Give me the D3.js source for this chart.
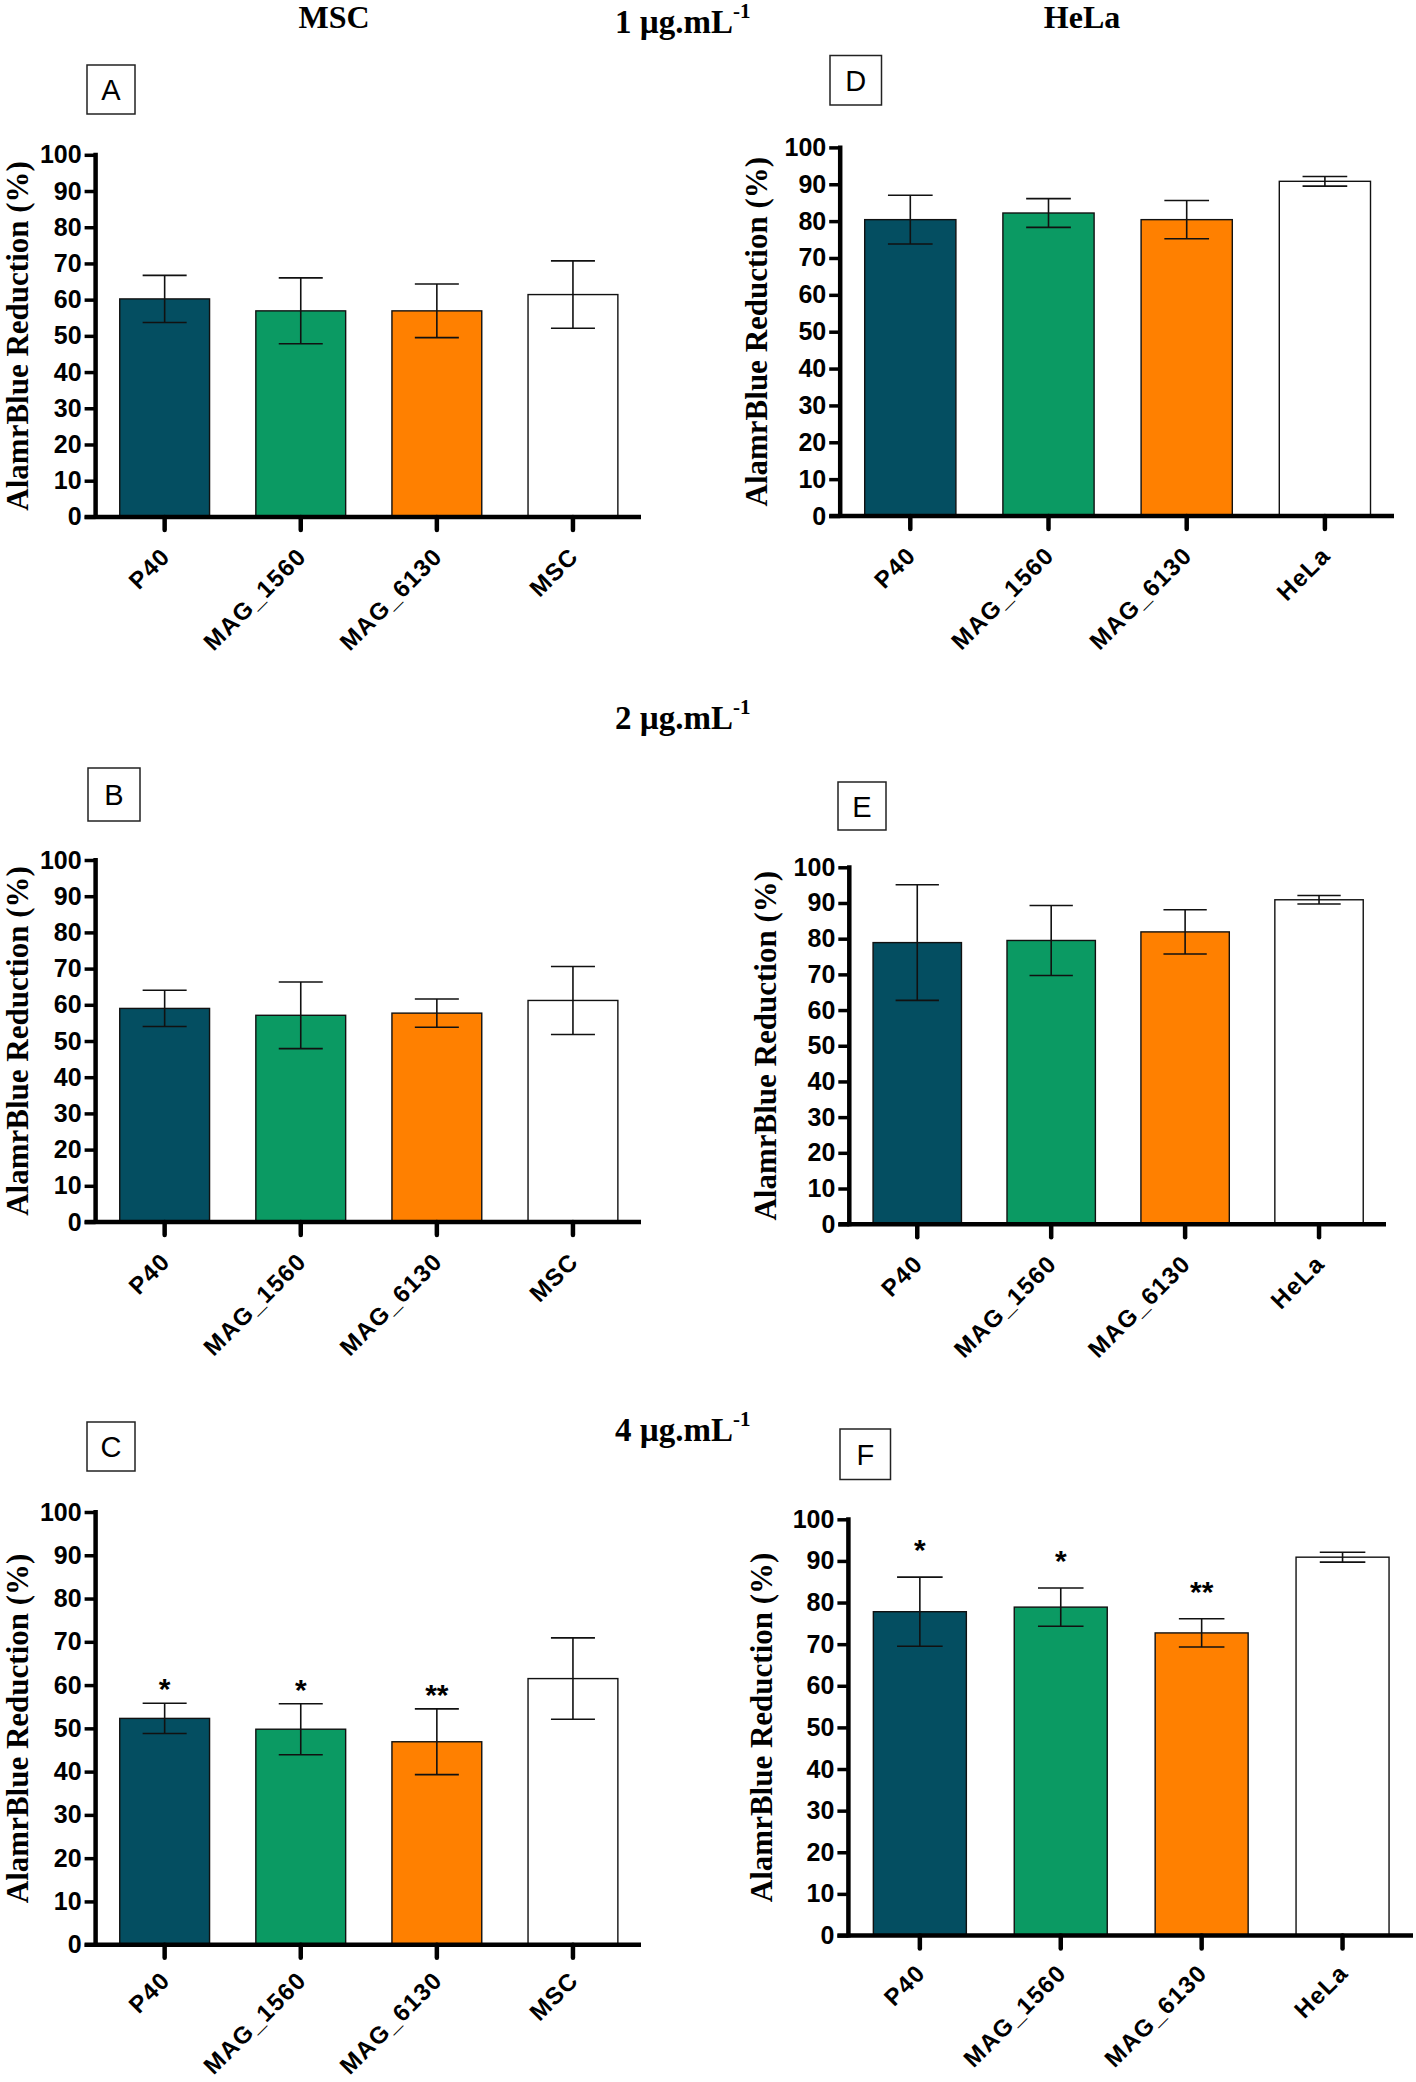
<!DOCTYPE html>
<html>
<head>
<meta charset="utf-8">
<script src="https://cdn.jsdelivr.net/npm/d3@7"></script>
<style>
  html, body { margin: 0; padding: 0; background: #fff; }
  svg { display: block; }
</style>
</head>
<body>
<svg id="chart" width="1416" height="2082"></svg>
<script>
// ---------------- DATA ----------------
const categoriesMSC  = ["P40", "MAG_1560", "MAG_6130", "MSC"];
const categoriesHeLa = ["P40", "MAG_1560", "MAG_6130", "HeLa"];
const yTickValues = [0, 10, 20, 30, 40, 50, 60, 70, 80, 90, 100];

// 1 µg/mL
const msc1Mean  = [60.2, 56.9, 56.9, 61.4];
const msc1Err   = [6.5, 9.1, 7.4, 9.3];
const hela1Mean = [80.4, 82.2, 80.4, 90.8];
const hela1Err  = [6.6, 3.9, 5.2, 1.3];
// 2 µg/mL
const msc2Mean  = [59.0, 57.1, 57.7, 61.2];
const msc2Err   = [5.0, 9.2, 3.9, 9.4];
const hela2Mean = [78.9, 79.5, 81.9, 90.9];
const hela2Err  = [16.2, 9.8, 6.2, 1.2];
// 4 µg/mL
const msc4Mean  = [52.3, 49.8, 46.9, 61.5];
const msc4Err   = [3.5, 5.9, 7.6, 9.4];
const hela4Mean = [77.8, 78.9, 72.7, 90.9];
const hela4Err  = [8.3, 4.6, 3.4, 1.2];

const sig4MSC  = ["*", "*", "**", ""];
const sig4HeLa = ["*", "*", "**", ""];

const barColors = ["#044E61", "#0B9A63", "#FF8000", "#FFFFFF"];
const yAxisTitle = "AlamrBlue Reduction (%)";

// ---------------- LAYOUT ----------------
const SANS = "'Liberation Sans', Arial, sans-serif";
const SERIF = "'Liberation Serif', 'Times New Roman', serif";

const svg = d3.select("#chart");

const panels = [
  { letter: "A", cats: categoriesMSC,  mean: msc1Mean,  err: msc1Err,  sig: null,
    ax: 95.6, xEnd: 641, y100: 154.8, y0: 516.9, box: [87, 65, 48, 49], labX: 28, xlabDy: 41 },
  { letter: "B", cats: categoriesMSC,  mean: msc2Mean,  err: msc2Err,  sig: null,
    ax: 95.6, xEnd: 641, y100: 860, y0: 1222, box: [88, 768, 52, 53], labX: 28, xlabDy: 41 },
  { letter: "C", cats: categoriesMSC,  mean: msc4Mean,  err: msc4Err,  sig: sig4MSC, sigGap: 4,
    ax: 95.6, xEnd: 641, y100: 1512, y0: 1944.7, box: [87, 1422, 48, 49], labX: 28, xlabDy: 37 },
  { letter: "D", cats: categoriesHeLa, mean: hela1Mean, err: hela1Err, sig: null,
    ax: 840.2, xEnd: 1394, y100: 147.4, y0: 516, box: [830, 55.5, 51.5, 49.5], labX: 767, xlabDy: 41 },
  { letter: "E", cats: categoriesHeLa, mean: hela2Mean, err: hela2Err, sig: null,
    ax: 849.3, xEnd: 1386, y100: 867.3, y0: 1224.2, box: [838, 782, 48, 48], labX: 776, xlabDy: 41 },
  { letter: "F", cats: categoriesHeLa, mean: hela4Mean, err: hela4Err, sig: sig4HeLa, sigGap: 17,
    ax: 848.4, xEnd: 1413, y100: 1519.3, y0: 1935.5, box: [840, 1429, 50.5, 50.5], labX: 772, xlabDy: 39 }
];

// ---------------- TITLES ----------------
function colTitle(txt, cx, by) {
  svg.append("text").attr("x", cx).attr("y", by)
    .attr("text-anchor", "middle")
    .style("font-family", SERIF).style("font-weight", "bold").style("font-size", "32px")
    .text(txt);
}
colTitle("MSC", 334, 28);
colTitle("HeLa", 1082, 28);

function concTitle(num, x, by) {
  const t = svg.append("text").attr("x", x).attr("y", by)
    .style("font-family", SERIF).style("font-weight", "bold").style("font-size", "33px");
  t.append("tspan").text(num + " \u00B5g.mL");
  t.append("tspan").attr("dy", -15).style("font-size", "21px").text("-1");
}
concTitle("1", 615, 33);
concTitle("2", 615, 729);
concTitle("4", 615, 1441);

// ---------------- PANELS ----------------
panels.forEach(p => {
  const g = svg.append("g");

  const x = d3.scaleBand().domain(p.cats).range([p.ax + 1, p.xEnd])
    .paddingInner(0.34).paddingOuter(0.17);
  const y = d3.scaleLinear().domain([0, 100]).range([p.y0, p.y100]);
  const bw = x.bandwidth();

  // bars
  g.selectAll("rect.bar").data(p.cats).join("rect")
    .attr("class", "bar")
    .attr("x", d => x(d))
    .attr("y", (d, i) => y(p.mean[i]))
    .attr("width", bw)
    .attr("height", (d, i) => y(0) - y(p.mean[i]))
    .attr("fill", (d, i) => barColors[i])
    .attr("stroke", "#111")
    .attr("stroke-width", 1.4);

  // error bars
  const eg = g.selectAll("g.err").data(p.cats).join("g").attr("class", "err")
    .attr("stroke", "#111").attr("stroke-width", 1.6);
  const capW = bw * 0.49;
  eg.append("line")
    .attr("x1", d => x(d) + bw / 2).attr("x2", d => x(d) + bw / 2)
    .attr("y1", (d, i) => y(p.mean[i] + p.err[i]))
    .attr("y2", (d, i) => y(p.mean[i] - p.err[i]));
  eg.append("line")
    .attr("x1", d => x(d) + bw / 2 - capW / 2).attr("x2", d => x(d) + bw / 2 + capW / 2)
    .attr("y1", (d, i) => y(p.mean[i] + p.err[i]))
    .attr("y2", (d, i) => y(p.mean[i] + p.err[i]));
  eg.append("line")
    .attr("x1", d => x(d) + bw / 2 - capW / 2).attr("x2", d => x(d) + bw / 2 + capW / 2)
    .attr("y1", (d, i) => y(p.mean[i] - p.err[i]))
    .attr("y2", (d, i) => y(p.mean[i] - p.err[i]));

  // significance stars
  if (p.sig) {
    g.selectAll("text.sig").data(p.cats).join("text")
      .attr("class", "sig")
      .attr("x", d => x(d) + bw / 2)
      .attr("y", (d, i) => y(p.mean[i] + p.err[i]) - p.sigGap)
      .attr("text-anchor", "middle")
      .style("font-family", SANS).style("font-weight", "bold").style("font-size", "30px")
      .text((d, i) => p.sig[i]);
  }

  // y axis
  const yAxis = g.append("g").attr("transform", `translate(${p.ax},0)`)
    .call(d3.axisLeft(y).tickValues(yTickValues).tickSize(11).tickSizeOuter(0).tickPadding(3));
  yAxis.select(".domain").remove();
  yAxis.selectAll(".tick line").attr("stroke", "#000").attr("stroke-width", 3.5);
  yAxis.selectAll(".tick text")
    .style("font-family", SANS).style("font-weight", "bold").style("font-size", "25px")
    .attr("fill", "#000");
  g.append("line")
    .attr("x1", p.ax).attr("x2", p.ax)
    .attr("y1", y(100) - 2).attr("y2", y(0) + 2)
    .attr("stroke", "#000").attr("stroke-width", 4.5);

  // x axis
  const xAxis = g.append("g").attr("transform", `translate(0,${y(0)})`)
    .call(d3.axisBottom(x).tickSize(13).tickSizeOuter(0));
  xAxis.select(".domain").remove();
  xAxis.selectAll(".tick line").attr("stroke", "#000").attr("stroke-width", 4.5)
    .attr("stroke-linecap", "round");
  xAxis.selectAll(".tick text")
    .attr("x", 0).attr("y", 0).attr("dy", 0)
    .attr("transform", `translate(7,${p.xlabDy}) rotate(-45)`)
    .style("text-anchor", "end")
    .style("font-family", SANS).style("font-weight", "bold").style("font-size", "24px")
    .style("letter-spacing", "1.3px")
    .attr("fill", "#000");
  g.append("line")
    .attr("x1", p.ax - 11).attr("x2", p.xEnd)
    .attr("y1", y(0)).attr("y2", y(0))
    .attr("stroke", "#000").attr("stroke-width", 4.5);

  // y axis title
  const cy = (y(0) + y(100)) / 2;
  g.append("text")
    .attr("transform", `translate(${p.labX},${cy}) rotate(-90)`)
    .attr("text-anchor", "middle")
    .style("font-family", SERIF).style("font-weight", "bold").style("font-size", "31px")
    .text(yAxisTitle);

  // panel letter box
  const [bx, by, bwid, bht] = p.box;
  g.append("rect").attr("x", bx).attr("y", by).attr("width", bwid).attr("height", bht)
    .attr("fill", "#fff").attr("stroke", "#222").attr("stroke-width", 1.5);
  g.append("text").attr("x", bx + bwid / 2).attr("y", by + bht / 2 + 10.5)
    .attr("text-anchor", "middle")
    .style("font-family", SANS).style("font-size", "29px")
    .text(p.letter);
});
</script>
</body>
</html>
